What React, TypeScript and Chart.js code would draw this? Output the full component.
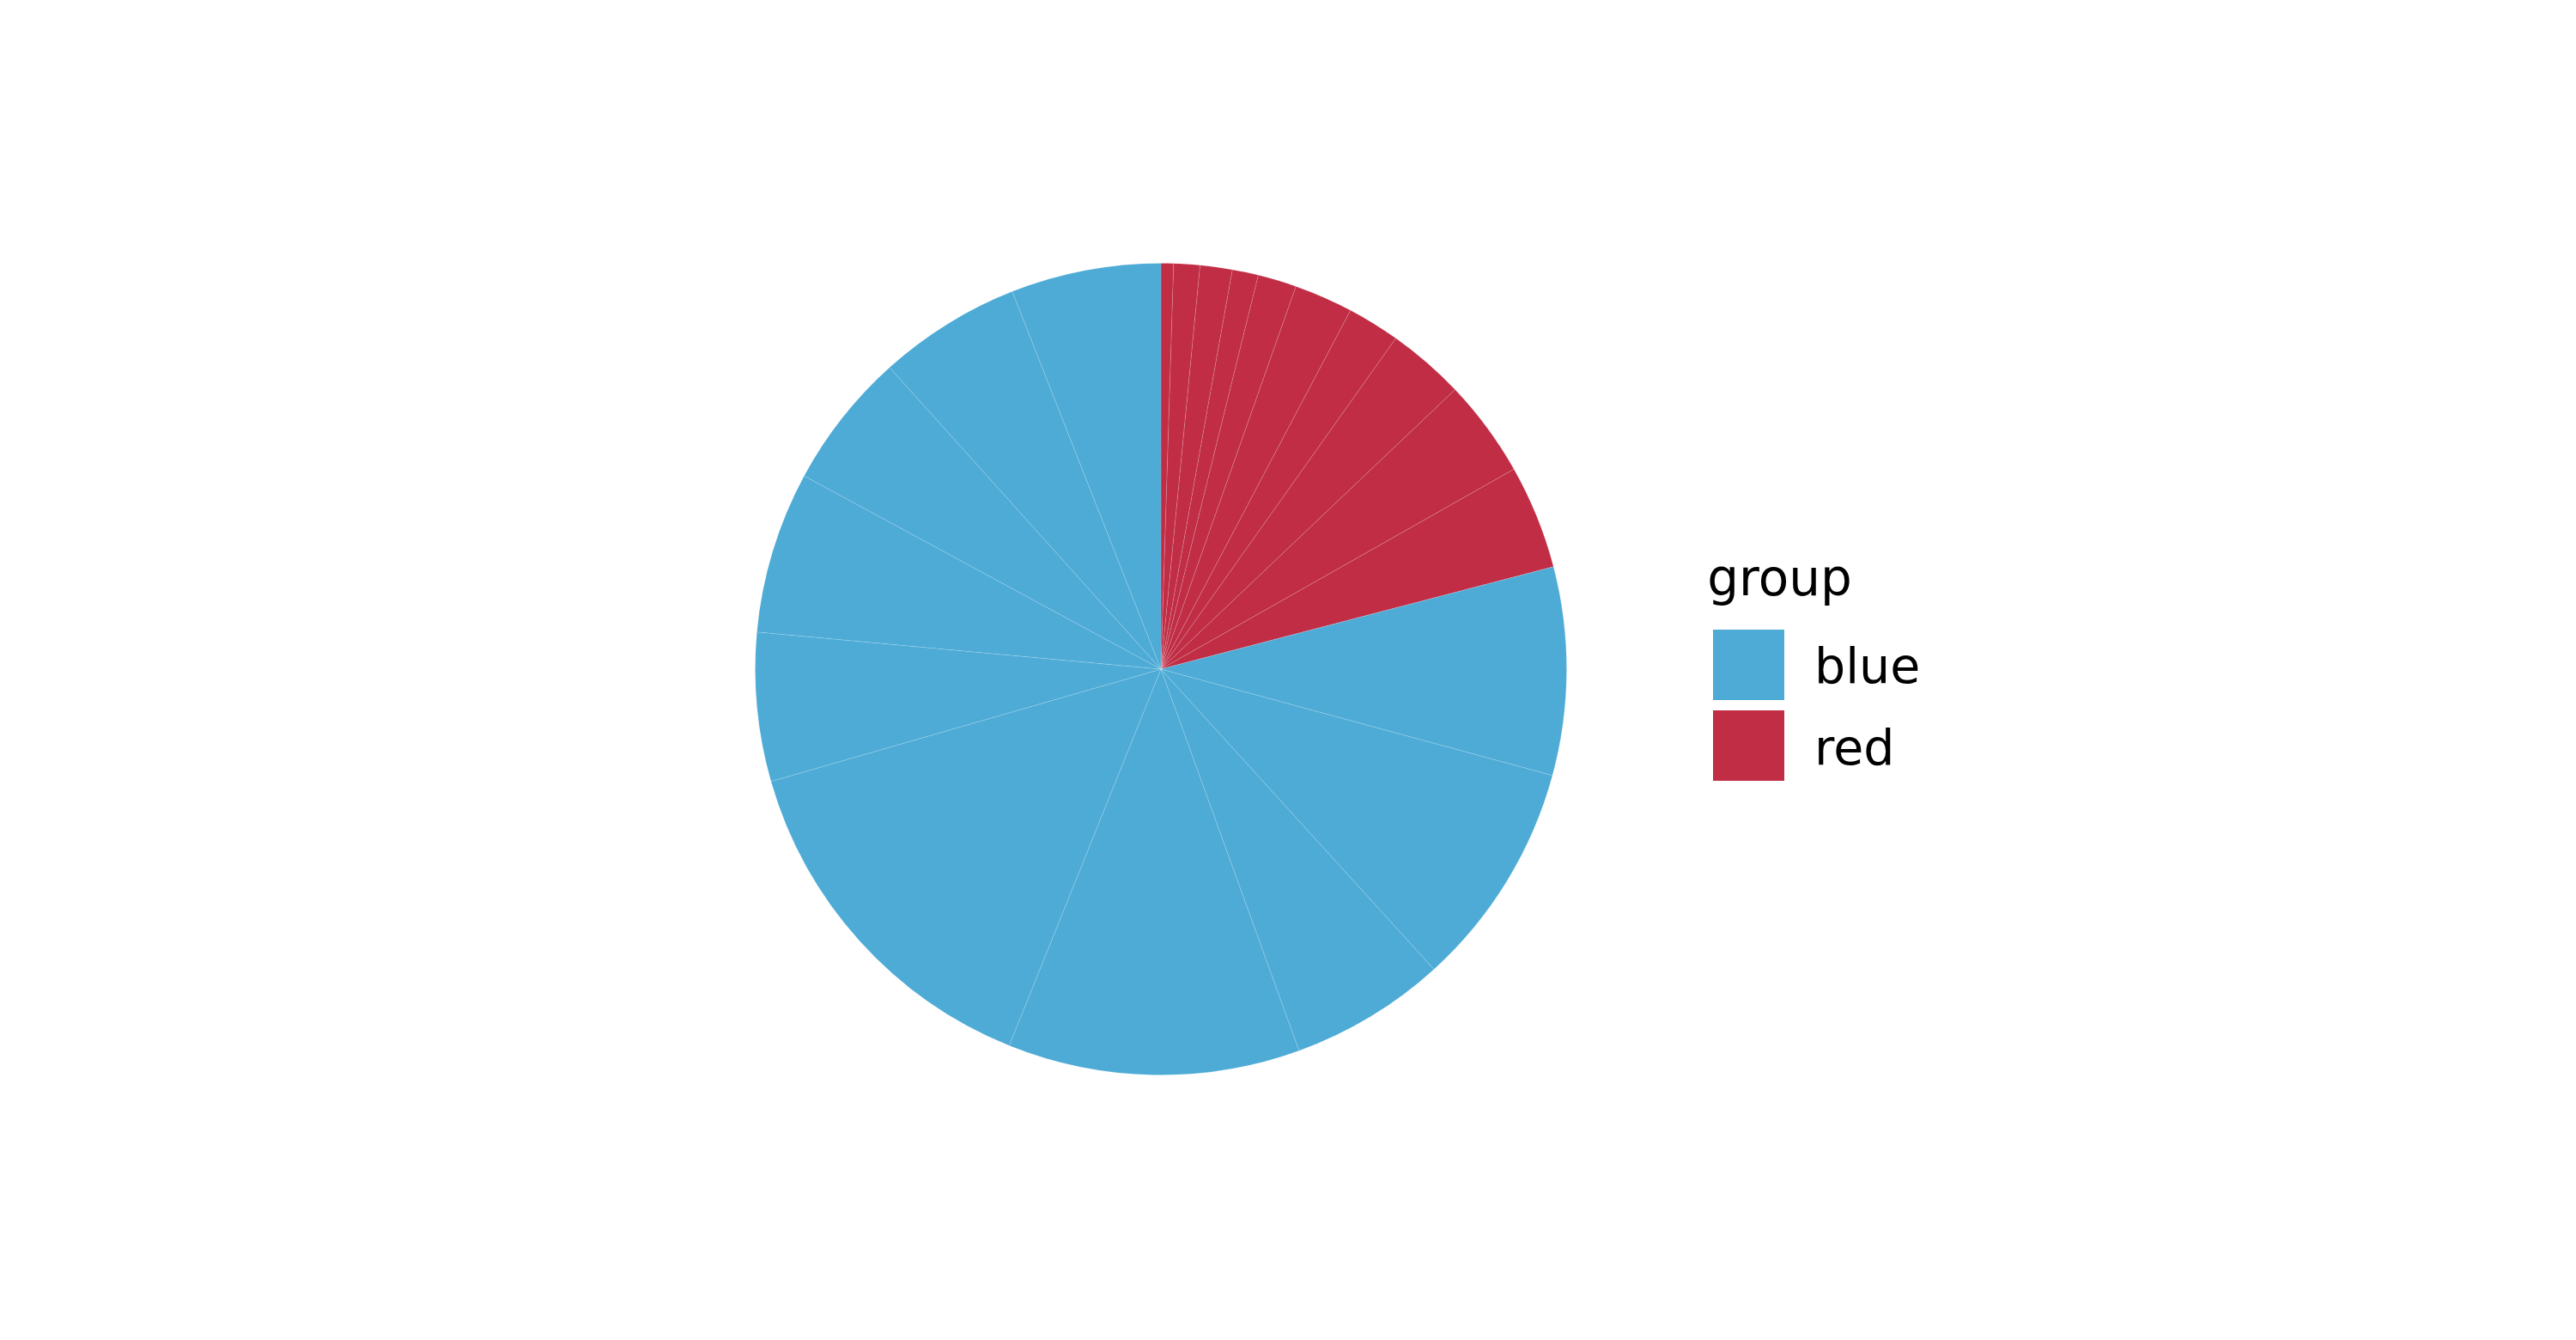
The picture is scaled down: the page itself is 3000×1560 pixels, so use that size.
import React, { useEffect, useRef } from "react";
import { Chart, registerables } from "chart.js";

Chart.register(...registerables);

// Slice values (percent of total), clockwise from 12 o'clock
const redValues = [0.5, 1.04, 1.28, 1.04, 1.54, 2.34, 2.09, 3.08, 3.89, 4.14];
const blueValues = [8.28, 9.03, 6.22, 11.63, 14.44, 5.92, 6.44, 5.44, 5.69, 5.97];
const groupNames = ["blue", "red"];
const legendTitle = "group";

const BLUE = "#4DABD6";
const RED = "#C02D45";

const FONT = "'DejaVu Sans', 'Liberation Sans', sans-serif";

export default function App() {
  const canvasRef = useRef<HTMLCanvasElement | null>(null);

  useEffect(() => {
    document.body.style.margin = "0";
    const canvas = canvasRef.current;
    if (!canvas) return;
    const values = [...redValues, ...blueValues];
    const labels = [
      ...redValues.map((_, i) => `red ${i + 1}`),
      ...blueValues.map((_, i) => `blue ${i + 1}`),
    ];
    const colors = [...redValues.map(() => RED), ...blueValues.map(() => BLUE)];
    const chart = new Chart(canvas, {
      type: "pie",
      data: {
        labels,
        datasets: [
          {
            data: values,
            backgroundColor: colors,
            borderColor: "rgba(255,255,255,0.14)",
            borderWidth: 1,
          },
        ],
      },
      options: {
        responsive: false,
        maintainAspectRatio: false,
        devicePixelRatio: 1,
        animation: false,
        layout: {
          padding: { left: 879, right: 1175, top: 306, bottom: 308 },
        },
        plugins: {
          legend: { display: false },
          tooltip: { enabled: false },
        },
      },
    });
    return () => chart.destroy();
  }, []);

  const keyColors = [BLUE, RED];
  const keyTops = [733, 827];
  const textTops = [746.8, 841.8];

  return (
    <div
      style={{
        position: "fixed",
        left: 0,
        top: 0,
        width: 3000,
        height: 1560,
        background: "#ffffff",
        fontFamily: FONT,
      }}
    >
      <canvas
        ref={canvasRef}
        width={3000}
        height={1560}
        style={{ position: "absolute", left: 0, top: 0, width: 3000, height: 1560 }}
      />
      <div
        style={{
          position: "absolute",
          left: 1988.3,
          top: 643.6,
          fontSize: 58,
          lineHeight: "58px",
          color: "#000",
          whiteSpace: "nowrap",
        }}
      >
        {legendTitle}
      </div>
      {groupNames.map((name, i) => (
        <React.Fragment key={name}>
          <div
            style={{
              position: "absolute",
              left: 1995,
              top: keyTops[i],
              width: 83,
              height: 82,
              background: keyColors[i],
            }}
          />
          <div
            style={{
              position: "absolute",
              left: 2113,
              top: textTops[i],
              fontSize: 57,
              lineHeight: "57px",
              color: "#000",
              whiteSpace: "nowrap",
            }}
          >
            {name}
          </div>
        </React.Fragment>
      ))}
    </div>
  );
}
